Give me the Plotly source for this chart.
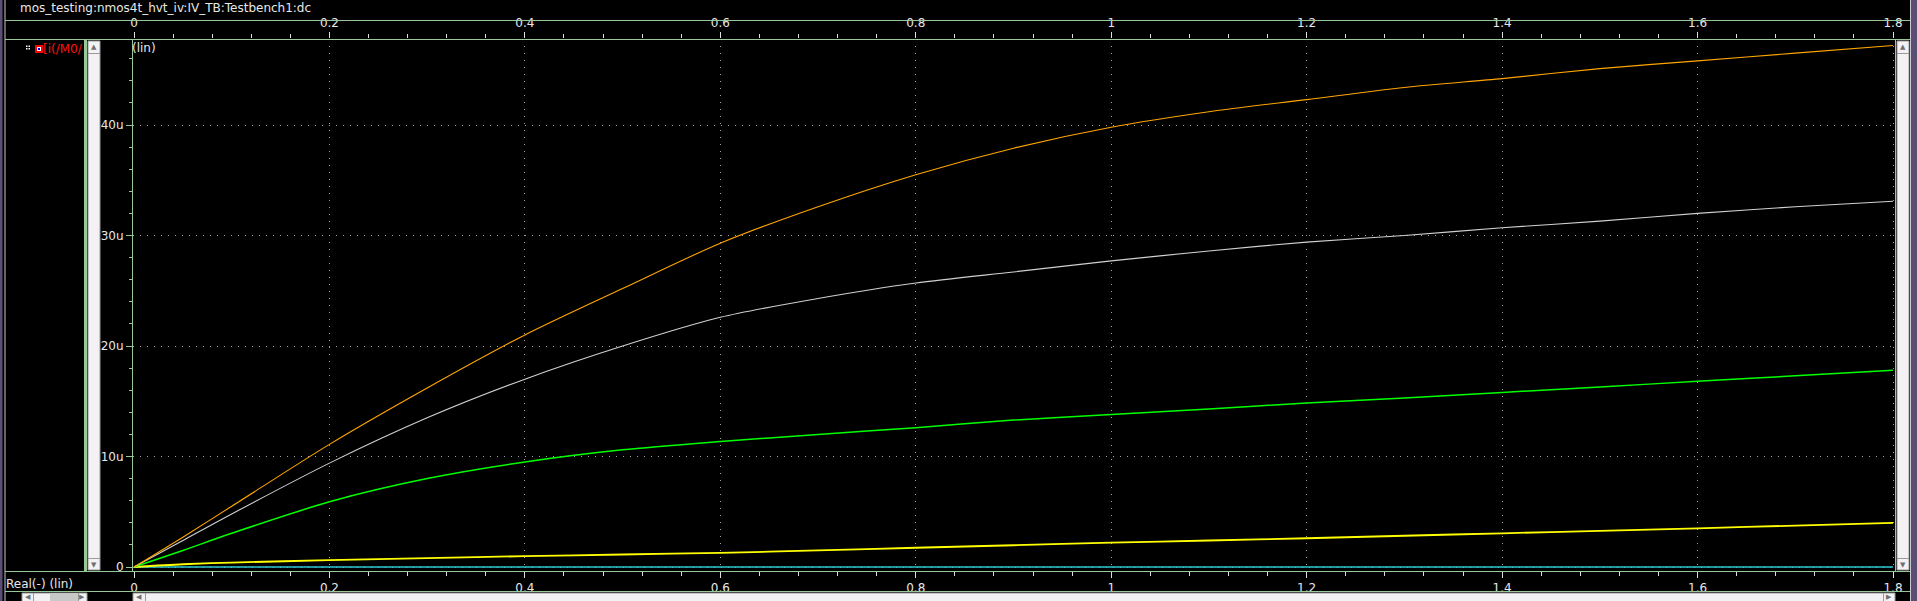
import plotly.graph_objects as go

# ---------------- data (units: uA vs V) ----------------
vds = [0, 0.05, 0.1, 0.2, 0.3, 0.4, 0.5, 0.6, 0.7, 0.8, 0.9, 1.0,
       1.1, 1.2, 1.3, 1.4, 1.5, 1.6, 1.7, 1.8]
id_orange = [0, 2.7, 5.5, 11.1, 16.2, 21.0, 25.2, 29.3, 32.6, 35.5, 37.9, 39.8,
             41.2, 42.3, 43.4, 44.2, 45.1, 45.8, 46.5, 47.2]
id_white = [0, 2.4, 4.8, 9.4, 13.5, 17.0, 20.0, 22.6, 24.3, 25.7, 26.7, 27.7,
            28.6, 29.4, 30.0, 30.7, 31.3, 32.0, 32.6, 33.1]
id_green = [0, 1.5, 3.05, 5.9, 8.0, 9.5, 10.6, 11.35, 12.0, 12.6, 13.3, 13.8,
            14.3, 14.85, 15.3, 15.8, 16.3, 16.8, 17.3, 17.8]
id_yellow = [0, 0.25, 0.4, 0.62, 0.8, 0.98, 1.13, 1.28, 1.5, 1.74, 1.97, 2.2,
             2.4, 2.6, 2.83, 3.05, 3.27, 3.5, 3.75, 4.0]
id_cyan = [0, 0, 0, 0, 0, 0, 0, 0, 0, 0, 0, 0, 0, 0, 0, 0, 0, 0, 0, 0]

y_tick_vals = [0, 10, 20, 30, 40]
y_tick_text = ["0", "10u", "20u", "30u", "40u"]

title_text = "mos_testing:nmos4t_hvt_iv:IV_TB:Testbench1:dc"
signal_text = "[i(/M0/"
xlabel_text = "Real(-) (lin)"
ylin_text = "(lin)"

# ---------------- geometry ----------------
W, H = 1917, 601
L, R, T, B = 133, 1896, 39, 571
PW, PH = R - L, B - T


def xp(px):
    return (px - L) / PW


def yp(py):
    return (B - py) / PH


# x scale: 0 at px 134, 1.8 at px 1893
xs = (1893 - 134) / 1.8
xmin = -(134 - L) / xs
xmax = 1.8 + (R - 1893) / xs
# y scale: 0 at px 567, 40u at px 125
ys = (567 - 125) / 40.0
ymin = -(B - 567) / ys
ymax = (567 - T) / ys

GREEN = "#98c898"
GRID = "#a0a0a0"
FONT = "DejaVu Sans"
TXT = "#e8e8e8"

fig = go.Figure()
series = [
    (id_cyan, "#2cc8d2", 1.6),
    (id_yellow, "#ffff00", 1.8),
    (id_green, "#00ff00", 1.5),
    (id_white, "#d0d0d0", 1.1),
    (id_orange, "#ffa500", 1.1),
]
for yv, col, w in series:
    fig.add_trace(go.Scatter(x=vds, y=yv, mode="lines",
                             line=dict(color=col, width=w, shape="spline", smoothing=0.8),
                             showlegend=False, hoverinfo="skip"))
fig.add_trace(go.Scatter(x=[vds[0]], y=[None], xaxis="x2", mode="lines",
                         showlegend=False, hoverinfo="skip"))

xcommon = dict(range=[xmin, xmax], tickmode="linear", tick0=0, dtick=0.2,
               ticks="outside", ticklen=6, tickcolor="#e0e0e0", tickwidth=1,
               minor=dict(tickmode="linear", tick0=0, dtick=0.04, ticks="outside",
                          ticklen=4, tickcolor="#e0e0e0", tickwidth=1, showgrid=False),
               zeroline=False, showline=False, fixedrange=True, automargin=False,
               tickfont=dict(family=FONT, size=12, color=TXT))

shapes = []


def rect(x0, y0, x1, y1, fill, lc=None, lw=0):
    shapes.append(dict(type="rect", xref="paper", yref="paper",
                       x0=xp(x0), x1=xp(x1), y0=yp(y1), y1=yp(y0),
                       fillcolor=fill, line=dict(color=lc or fill, width=lw),
                       layer="above"))


def line(x0, y0, x1, y1, col, w=1):
    shapes.append(dict(type="line", xref="paper", yref="paper",
                       x0=xp(x0), x1=xp(x1), y0=yp(y0), y1=yp(y1),
                       line=dict(color=col, width=w), layer="above"))


# outer borders
rect(0, 0, 2.5, 601, "#5a4e74")
line(5, 0, 5, 601, "#c8c8d0")
rect(1911, 0, 1917, 601, "#5a4e74")
line(1910.5, 0, 1910.5, 601, "#c8c8d0")
# horizontal frame lines
for yy in (20.5, 39.5, 571.5, 591.5):
    line(5, yy, 1910, yy, GREEN)
# green vertical bar left and right plot edge
rect(84, 39, 87, 571, GREEN)
line(1895.5, 39, 1895.5, 571, GREEN)
# left vertical scrollbar
rect(88, 41, 100, 570, "#f3f1f3", "#9a9a9a", 1)
line(88, 53.5, 100, 53.5, "#9a9a9a")
line(88, 558.5, 100, 558.5, "#9a9a9a")
# right vertical scrollbar
rect(1897, 41, 1909, 570, "#f3f1f3", "#9a9a9a", 1)
line(1897, 53.5, 1909, 53.5, "#9a9a9a")
line(1897, 558.5, 1909, 558.5, "#9a9a9a")
# bottom scrollbars
rect(22, 593, 87, 603, "#f3f1f3", "#9a9a9a", 1)
rect(50, 594, 78, 603, "#c8c8c8")
line(33.5, 593, 33.5, 601, "#9a9a9a")
line(78.5, 593, 78.5, 601, "#9a9a9a")
rect(133, 593, 1895, 603, "#f3f1f3", "#9a9a9a", 1)
line(145.5, 593, 145.5, 601, "#9a9a9a")
line(1883.5, 593, 1883.5, 601, "#9a9a9a")
# legend icon
for dx in (26, 28.5):
    for dy in (45.5, 48):
        rect(dx, dy, dx + 1.5, dy + 1.5, "#ffffff")
rect(35, 45, 43, 53, "#ff0000")
rect(37, 47, 41, 51, "#ffffff")
rect(38, 48, 40, 50, "#0000ff")

annotations = []


def text(x, y, s, col=TXT, size=12, xa="left"):
    annotations.append(dict(xref="paper", yref="paper", x=xp(x), y=yp(y), text=s,
                            showarrow=False, xanchor=xa, yanchor="middle",
                            font=dict(family=FONT, size=size, color=col),
                            borderpad=0, borderwidth=0))


text(20, 8, title_text)
text(132, 48, ylin_text)
text(43, 49, signal_text, col="#ff1010")
text(6, 584, xlabel_text)
arrow_col = "#707070"
text(94, 47.5, "▲", arrow_col, 7, "center")
text(94, 564.5, "▼", arrow_col, 7, "center")
text(1903, 47.5, "▲", arrow_col, 7, "center")
text(1903, 564.5, "▼", arrow_col, 7, "center")
text(28, 596.5, "◀", arrow_col, 7, "center")
text(82, 596.5, "▶", arrow_col, 7, "center")
text(139, 596.5, "◀", arrow_col, 7, "center")
text(1889, 596.5, "▶", arrow_col, 7, "center")

fig.update_layout(
    width=W, height=H, autosize=False,
    margin=dict(l=L, r=W - R, t=T, b=H - B, pad=0, autoexpand=False),
    paper_bgcolor="#000000", plot_bgcolor="#000000",
    showlegend=False,
    xaxis=dict(**xcommon, showgrid=True, gridcolor=GRID, griddash="1px,6px", gridwidth=1),
    xaxis2=dict(**xcommon, overlaying="x", side="top", anchor="y", showgrid=False),
    yaxis=dict(range=[ymin, ymax], tickmode="array", tickvals=y_tick_vals,
               ticktext=y_tick_text, ticks="outside", ticklen=6, tickcolor=GREEN,
               minor=dict(tickmode="linear", tick0=0, dtick=2, ticks="outside",
                          ticklen=3, tickcolor=GREEN, showgrid=False),
               showline=True, linecolor=GREEN, linewidth=1, automargin=False,
               showgrid=True, gridcolor=GRID, griddash="1px,6px", gridwidth=1,
               zeroline=False, fixedrange=True,
               tickfont=dict(family=FONT, size=12, color=TXT)),
    shapes=shapes, annotations=annotations,
)

fig.write_html(
    "out.html",
    config={"displayModeBar": False},
    post_script="document.body.style.margin='0';document.body.style.padding='0';"
                "document.body.style.overflow='hidden';"
                "document.documentElement.style.overflow='hidden';",
)
